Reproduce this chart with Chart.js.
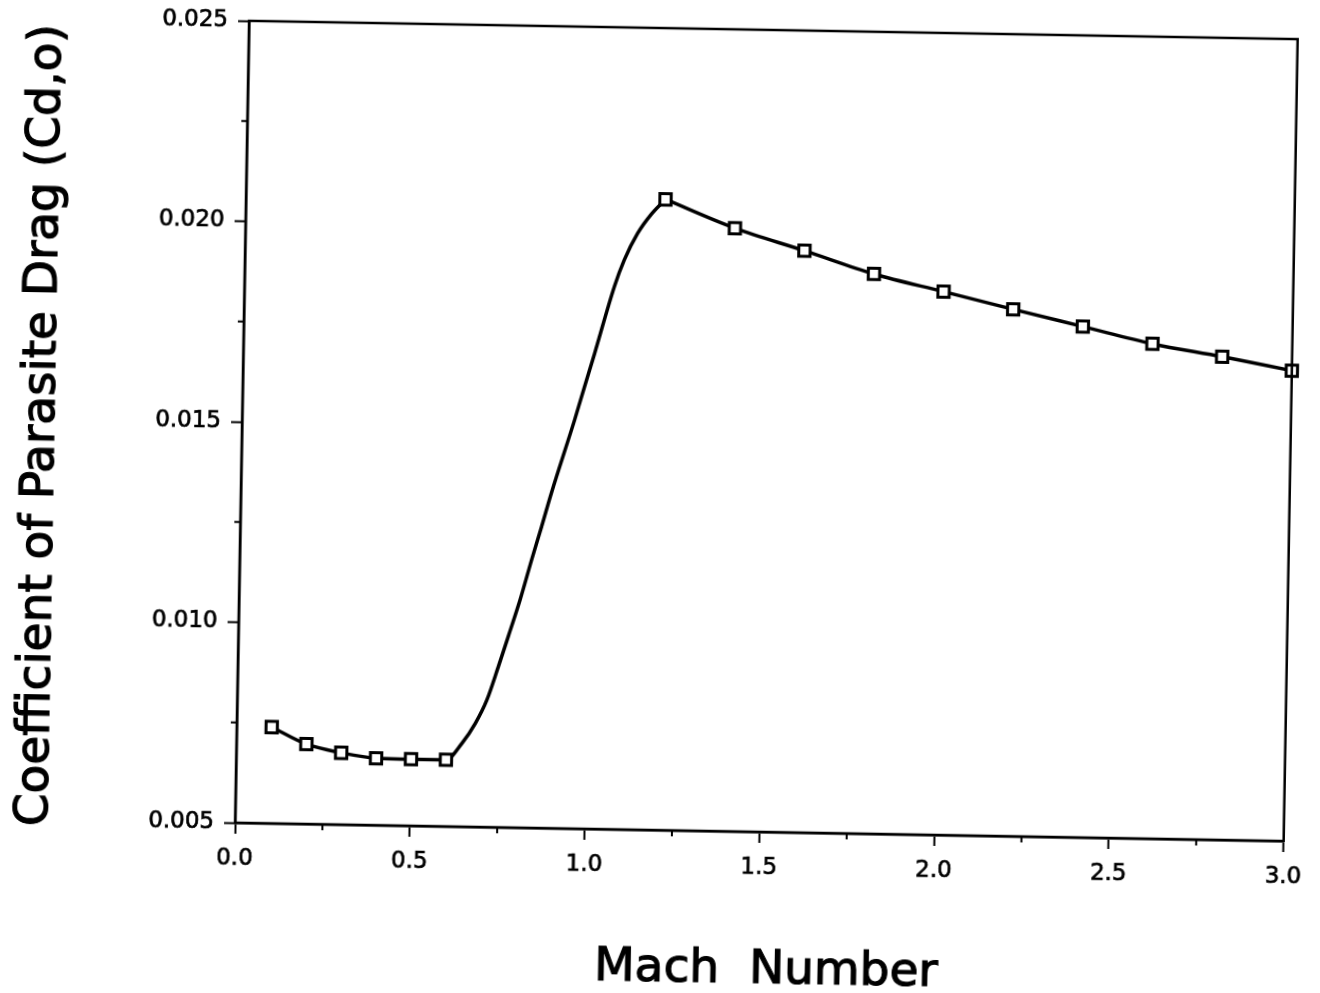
<!DOCTYPE html>
<html>
<head>
<meta charset="utf-8">
<style>
html,body{margin:0;padding:0;background:#fff;overflow:hidden;width:1320px;height:993px}
#outer{position:relative;left:0;top:0;width:1320px;height:993px;overflow:hidden;background:#fff}
#wrap{position:absolute;left:0;top:0;width:1320px;height:993px;transform:rotate(1deg);transform-origin:770px 431px}
canvas{display:block}
</style>
<script src="https://cdn.jsdelivr.net/npm/chart.js@4/dist/chart.umd.min.js"></script>
</head>
<body>
<div id="outer"><div id="wrap"><canvas id="c" width="1320" height="993"></canvas></div></div>
<script>
// Marked data points (open squares)
const machMarkers = [0.1, 0.2, 0.3, 0.4, 0.5, 0.6, 1.2, 1.4, 1.6, 1.8, 2.0, 2.2, 2.4, 2.6, 2.8, 3.0];
const cdMarkers   = [0.00740, 0.00699, 0.00679, 0.00667, 0.00666, 0.00666, 0.02073, 0.02004, 0.01951, 0.01896, 0.01855, 0.01814, 0.01774, 0.01734, 0.01705, 0.01673];

// Transonic rise portion of the curve (drawn without markers)
const machCurve = [0.645, 0.682, 0.714, 0.745, 0.772, 0.804, 0.835, 0.862, 0.888, 0.951, 0.978, 1.005, 1.058, 1.085, 1.122, 1.159];
const cdCurve   = [0.00708, 0.00758, 0.00817, 0.00900, 0.00976, 0.01068, 0.01168, 0.01252, 0.01335, 0.01519, 0.01603, 0.01686, 0.01853, 0.01920, 0.01987, 0.02034];

// Mach number where the curve peaks (cusp between the two drawn pieces)
const machPeak = 1.2;

// Axis settings
const xMin = 0, xMax = 3.0, xStep = 0.25, xLabelStep = 0.5;
const yMin = 0.005, yMax = 0.025, yStep = 0.0025, yLabelStep = 0.005;
const xTitle = 'Mach  Number';
const yTitle = 'Coefficient of Parasite Drag (Cd,o)';

const isMult = (v, s) => Math.abs(v / s - Math.round(v / s)) < 1e-6;

const markerPts = machMarkers.map((m, i) => ({x: m, y: cdMarkers[i]}));
const allPts = markerPts.concat(machCurve.map((m, i) => ({x: m, y: cdCurve[i]})))
  .sort((a, b) => a.x - b.x);
const risePts = allPts.filter(p => p.x <= machPeak);
const fallPts = allPts.filter(p => p.x >= machPeak);

const FONT = "'DejaVu Sans', sans-serif";
Chart.defaults.font.family = FONT;
Chart.defaults.color = '#000';

const frameTitles = {
  id: 'frameTitles',
  afterDraw(chart) {
    const {ctx, chartArea: a} = chart;
    ctx.save();
    ctx.strokeStyle = '#000';
    ctx.lineWidth = 2.5;
    ctx.strokeRect(a.left, a.top, a.right - a.left, a.bottom - a.top);
    ctx.lineWidth = 2;
    const xs = chart.scales.x, ys = chart.scales.y;
    ctx.beginPath();
    xs.ticks.forEach(t => {
      if (!isMult(t.value, xLabelStep)) {
        const px = xs.getPixelForValue(t.value);
        ctx.moveTo(px, a.bottom); ctx.lineTo(px, a.bottom + 6);
      }
    });
    ys.ticks.forEach(t => {
      if (!isMult(t.value, yLabelStep)) {
        const py = ys.getPixelForValue(t.value);
        ctx.moveTo(a.left, py); ctx.lineTo(a.left - 6, py);
      }
    });
    ctx.stroke();
    // axis titles
    ctx.fillStyle = '#000';
    ctx.strokeStyle = '#000';
    ctx.lineWidth = 1.2;
    ctx.font = '47px ' + FONT;
    ctx.textAlign = 'center';
    ctx.textBaseline = 'alphabetic';
    const xc = (a.left + a.right) / 2 + 9;
    ctx.fillText(xTitle, xc, 983);
    ctx.strokeText(xTitle, xc, 983);
    ctx.translate(54, (a.top + a.bottom) / 2 + 7);
    ctx.rotate(-Math.PI / 2);
    ctx.fillText(yTitle, 0, 0);
    ctx.strokeText(yTitle, 0, 0);
    ctx.restore();
  }
};

const lineStyle = {
  borderColor: '#000',
  borderWidth: 3.5,
  pointRadius: 0,
  cubicInterpolationMode: 'monotone',
  fill: false
};

new Chart(document.getElementById('c'), {
  type: 'line',
  data: {
    datasets: [
      {
        data: markerPts,
        showLine: false,
        pointStyle: 'rect',
        pointRadius: 8,
        pointBorderWidth: 3,
        pointBackgroundColor: '#fff',
        pointBorderColor: '#000',
        clip: false
      },
      Object.assign({data: risePts}, lineStyle),
      Object.assign({data: fallPts}, lineStyle)
    ]
  },
  options: {
    responsive: false,
    animation: false,
    devicePixelRatio: 1,
    layout: {autoPadding: false, padding: {left: 0, top: 30, right: 23, bottom: 0}},
    plugins: {legend: {display: false}, tooltip: {enabled: false}},
    scales: {
      x: {
        type: 'linear',
        min: xMin, max: xMax,
        afterFit: s => { s.height = 161; },
        border: {display: true, color: '#000', width: 2.5},
        grid: {
          drawOnChartArea: false, drawTicks: true, tickLength: 11, tickWidth: 2,
          tickColor: c => (c.tick && isMult(c.tick.value, xLabelStep)) ? '#000' : 'rgba(0,0,0,0)'
        },
        ticks: {
          stepSize: xStep, padding: 11, maxRotation: 0, autoSkip: false,
          font: {size: 23}, textStrokeColor: '#000', textStrokeWidth: 0.7,
          callback: v => isMult(v, xLabelStep) ? v.toFixed(1) : ''
        },
        title: {display: false}
      },
      y: {
        type: 'linear',
        min: yMin, max: yMax,
        afterFit: s => { s.width = 242; },
        border: {display: true, color: '#000', width: 2.5},
        grid: {
          drawOnChartArea: false, drawTicks: true, tickLength: 11, tickWidth: 2,
          tickColor: c => (c.tick && isMult(c.tick.value, yLabelStep)) ? '#000' : 'rgba(0,0,0,0)'
        },
        ticks: {
          stepSize: yStep, padding: 10, autoSkip: false,
          font: {size: 23}, textStrokeColor: '#000', textStrokeWidth: 0.7,
          callback: v => isMult(v, yLabelStep) ? v.toFixed(3) : ''
        },
        title: {display: false}
      }
    }
  },
  plugins: [frameTitles]
});
</script>
</body>
</html>
